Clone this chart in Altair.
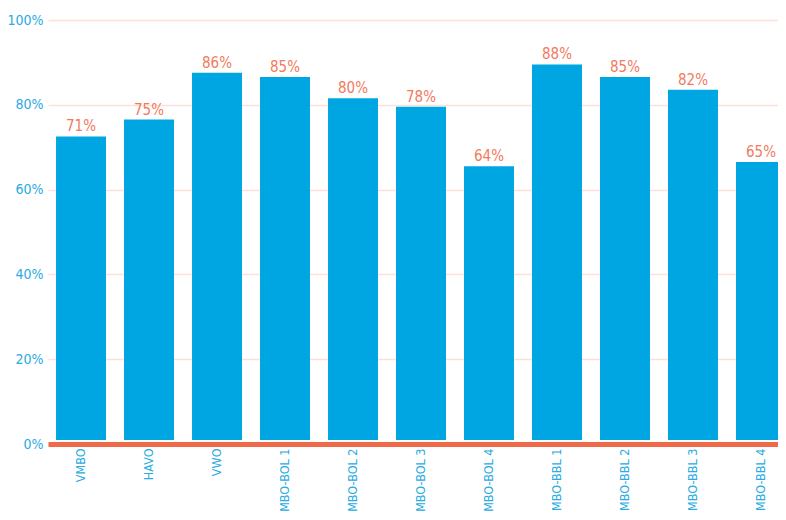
import altair as alt
import pandas as pd

categories = ["VMBO", "HAVO", "VWO", "MBO-BOL 1", "MBO-BOL 2", "MBO-BOL 3",
              "MBO-BOL 4", "MBO-BBL 1", "MBO-BBL 2", "MBO-BBL 3", "MBO-BBL 4"]
values = [71, 75, 86, 85, 80, 78, 64, 88, 85, 82, 65]
y_ticks = [0, 20, 40, 60, 80, 100]

df = pd.DataFrame({"cat": categories, "val": values})

FONT = "Liberation Sans Narrow, DejaVu Sans Condensed, sans-serif"
BLUE = "#00a6e2"
LABEL_BLUE = "#2aabe2"
SALMON = "#f27a5e"
ORANGE = "#ef6847"
GRID = "#fde0d8"

x = alt.X("cat:N", sort=categories, title=None,
          scale=alt.Scale(paddingInner=0.265, paddingOuter=0.118, align=0.5,
                          range=[0, 746]),
          axis=alt.Axis(labelAngle=-90, labelColor=LABEL_BLUE, labelFont=FONT,
                        labelFontSize=12.5, labelPadding=4, ticks=False,
                        domainColor=ORANGE, domainWidth=5, grid=False,
                        labelBaseline="middle", labelAlign="right",
                        labelLimit=200))
y = alt.Y("val:Q", title=None,
          scale=alt.Scale(domain=[0, 100], nice=False),
          axis=alt.Axis(values=y_ticks,
                        labelExpr="datum.value + '%'",
                        labelColor=LABEL_BLUE, labelFont=FONT,
                        labelFontSize=14,
                        labelPadding=5, ticks=False, domain=False,
                        grid=True, gridColor=GRID, gridWidth=1.5))

bars = alt.Chart(df).mark_bar(color=BLUE, yOffset=-6.5, y2Offset=-4).encode(
    x=x, y=y, y2=alt.datum(0)
)
pct = alt.Chart(df).transform_calculate(lbl="datum.val + '%'").mark_text(
    color=SALMON, font=FONT, fontSize=15, baseline="alphabetic", dy=-11.5
).encode(
    x=x,
    y=y,
    text="lbl:N",
)

chart = alt.layer(bars, pct).properties(
    width=730, height=424,
    background="white",
    autosize=alt.AutoSizeParams(type="none"),
    padding={"left": 40, "top": 12, "right": 0, "bottom": 68},
).configure_view(stroke=None).configure_axisY(domain=False)

chart.save("out.html", embed_options={"renderer": "svg", "actions": False})
